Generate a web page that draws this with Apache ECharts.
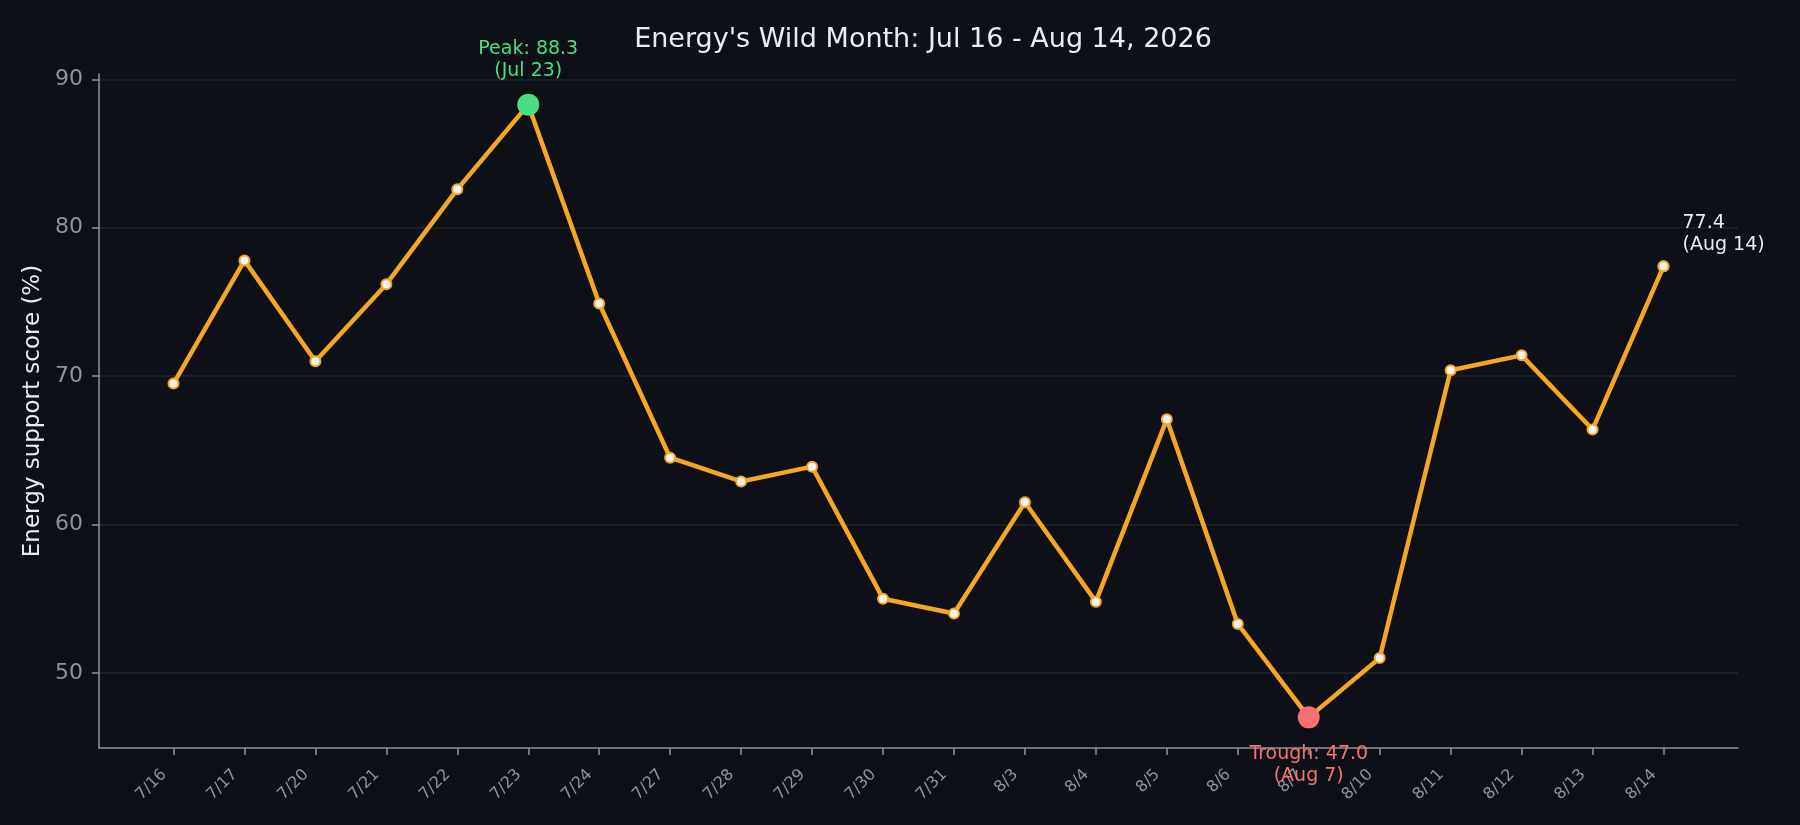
<!DOCTYPE html>
<html>
<head>
<meta charset="utf-8">
<script src="https://cdn.jsdelivr.net/npm/echarts@6/dist/echarts.min.js"></script>
<style>
html,body{margin:0;padding:0;background:#0d1117;}
#chart{width:1800px;height:825px;}
</style>
</head>
<body>
<div id="chart"></div>
<script>
const categories = ['7/16','7/17','7/20','7/21','7/22','7/23','7/24','7/27','7/28','7/29','7/30','7/31','8/3','8/4','8/5','8/6','8/7','8/10','8/11','8/12','8/13','8/14'];
const dateLabels = ['Jul 16','Jul 17','Jul 20','Jul 21','Jul 22','Jul 23','Jul 24','Jul 27','Jul 28','Jul 29','Jul 30','Jul 31','Aug 3','Aug 4','Aug 5','Aug 6','Aug 7','Aug 10','Aug 11','Aug 12','Aug 13','Aug 14'];
const values = [69.5,77.8,71.0,76.2,82.6,88.3,74.9,64.5,62.9,63.9,55.0,54.0,61.5,54.8,67.1,53.3,47.0,51.0,70.4,71.4,66.4,77.4];
const yTicks = [50,60,70,80,90];
const titleText = "Energy's Wild Month: Jul 16 - Aug 14, 2026";
const yName = 'Energy support score (%)';

const n = values.length;
const peakIdx = values.indexOf(Math.max(...values));
const troughIdx = values.indexOf(Math.min(...values));
const lastIdx = n - 1;
const vMin = Math.min(...values), vMax = Math.max(...values);
const yPad = (vMax - vMin) * 0.05;
const xPad = (n - 1) * 0.05;
const labelShift = 0.134;

const chart = echarts.init(document.getElementById('chart'), null, {renderer: 'canvas'});
const font = 'DejaVu Sans';
chart.setOption({
  backgroundColor: '#0d1117',
  animation: false,
  textStyle: {fontFamily: font},
  title: {
    text: titleText,
    left: 918, top: 21,
    textAlign: 'center',
    textStyle: {color: '#e6edf3', fontSize: 27, fontWeight: 'normal', fontFamily: font}
  },
  grid: {left: 99, right: 62, top: 74, bottom: 77, containLabel: false},
  xAxis: {
    type: 'value',
    min: -xPad, max: (n - 1) + xPad,
    axisLine: {show: true, onZero: false, lineStyle: {color: '#8b949e', width: 1.5}},
    axisTick: {show: true, length: 7, lineStyle: {color: '#8b949e', width: 1.5}, customValues: categories.map((c, i) => i)},
    axisLabel: {
      rotate: 45, margin: 24, fontSize: 16, color: '#8b949e', fontFamily: font,
      customValues: categories.map((c, i) => i - labelShift),
      formatter: v => categories[Math.round(v + labelShift)]
    },
    splitLine: {show: false}
  },
  yAxis: {
    type: 'value',
    min: vMin - yPad, max: vMax + yPad,
    name: yName, nameLocation: 'middle', nameGap: 50,
    nameTextStyle: {color: '#e6edf3', fontSize: 23, fontFamily: font},
    axisLine: {show: true, onZero: false, lineStyle: {color: '#8b949e', width: 1.5}},
    axisTick: {show: true, length: 7, lineStyle: {color: '#8b949e', width: 1.5}, customValues: yTicks},
    axisLabel: {margin: 16, fontSize: 22, color: '#8b949e', fontFamily: font, padding: [4, 0, 0, 0], customValues: yTicks},
    splitLine: {show: true, lineStyle: {color: '#21262d', width: 1.5}}
  },
  series: [
    {
      type: 'line',
      data: values.map((v, i) => [i, v]),
      symbol: 'circle', symbolSize: 10,
      lineStyle: {color: '#f5a623', width: 4.5},
      itemStyle: {color: '#f0f3f6', borderColor: '#f5a623', borderWidth: 2},
      z: 2
    },
    {
      type: 'scatter',
      data: [[lastIdx, values[lastIdx]]],
      symbol: 'circle', symbolSize: 10,
      itemStyle: {color: '#f0f3f6', borderColor: '#f5a623', borderWidth: 2, opacity: 1},
      label: {
        show: true, position: [25, -48], align: 'left', verticalAlign: 'top',
        color: '#e6edf3', fontSize: 19, lineHeight: 22, fontFamily: font,
        formatter: () => values[lastIdx].toFixed(1) + '\n(' + dateLabels[lastIdx] + ')'
      },
      z: 3
    },
    {
      type: 'scatter',
      data: [[peakIdx, values[peakIdx]]],
      symbol: 'circle', symbolSize: 22,
      itemStyle: {color: '#4ade80', opacity: 1},
      label: {
        show: true, position: 'top', distance: 12, align: 'center',
        color: '#4ade80', fontSize: 19, lineHeight: 22, fontFamily: font,
        formatter: () => 'Peak: ' + values[peakIdx].toFixed(1) + '\n(' + dateLabels[peakIdx] + ')'
      },
      z: 4
    },
    {
      type: 'scatter',
      data: [[troughIdx, values[troughIdx]]],
      symbol: 'circle', symbolSize: 22,
      itemStyle: {color: '#f87171', opacity: 1},
      label: {
        show: true, position: 'bottom', distance: 15, align: 'center',
        color: '#f87171', fontSize: 19, lineHeight: 22, fontFamily: font,
        formatter: () => 'Trough: ' + values[troughIdx].toFixed(1) + '\n(' + dateLabels[troughIdx] + ')'
      },
      z: 4
    }
  ]
});
</script>
</body>
</html>
